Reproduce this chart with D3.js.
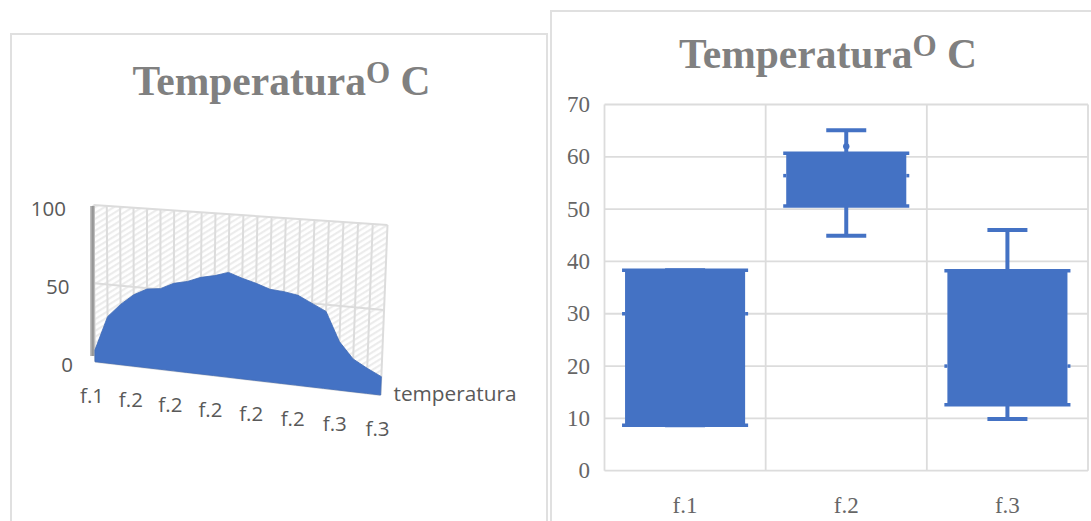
<!DOCTYPE html>
<html><head><meta charset="utf-8">
<script src="https://cdn.jsdelivr.net/npm/d3@7"></script>
<style>html,body{margin:0;background:#fff}svg{display:block}</style></head>
<body><svg id="c" width="1091" height="521"></svg>
<script>
const areaCategories = ["f.1","f.1","f.1","f.2","f.2","f.2","f.2","f.2","f.2","f.2","f.2","f.2","f.2","f.2","f.2","f.2","f.2","f.2","f.3","f.3","f.3","f.3"];
const areaValues = [7.4,29.6,38.2,45.1,49.5,50.5,54.6,56.5,59.8,61.6,64.3,61.4,59.1,56.2,55.5,54.1,50,46,28.8,19.4,14.8,10.8];
const areaTicks = [0,50,100];
const boxCategories = ["f.1","f.2","f.3"];
const boxLow = [8.7,50.6,12.6];
const boxHigh = [38.3,60.7,38.2];
const whiskerLow = [8.7,44.9,9.9];
const whiskerHigh = [38.3,65.1,46];
const boxMid = [30,56.4,20];
const outliers = [[1,62]];
const boxTicks = [0,10,20,30,40,50,60,70];
const title = "Temperatura";
const seriesName = "temperatura";

const svg = d3.select("#c");
const defs = svg.append("defs");
const blue="#4472c4", grid="#dcdcdc", txt="#595959", ttl="#808080";
const line=(p,x1,y1,x2,y2,c,w)=>p.append("line").attr("x1",x1).attr("y1",y1).attr("x2",x2).attr("y2",y2).attr("stroke",c).attr("stroke-width",w);

// panel frames
svg.append("path").attr("d","M11,521V34H547V521").attr("fill","none").attr("stroke","#e0e0e0").attr("stroke-width",2);
svg.append("path").attr("d","M551,521V11H1091").attr("fill","none").attr("stroke","#e0e0e0").attr("stroke-width",2);

function drawTitle(cx,y,size){
  const t=svg.append("text").attr("x",cx).attr("y",y).attr("text-anchor","middle")
    .attr("font-family","Liberation Serif").attr("font-weight","bold").attr("font-size",size).attr("fill",ttl);
  t.append("tspan").text(title);
  t.append("tspan").attr("dy",-size*0.3).attr("font-size",size*0.75).text("O");
  t.append("tspan").attr("dy",size*0.3).text(" C");
}
drawTitle(281.5,95,41.5);
drawTitle(828,68,41.5);

// ---- left: pseudo-3D area ----
const n=areaValues.length, k=1.058;
const persp=u=>u/(u+k*(1-u));
const U=d3.scaleLinear().domain([0,n-1]).range([0,1]);
const baseX=d3.scaleLinear().domain([0,1]).range([95,380.6]);
const topX=d3.scaleLinear().domain([0,1]).range([93.5,387.5]);
const baseY=d3.scaleLinear().domain([0,1]).range([361.7,395]);
const wallH=d3.scaleLinear().domain([0,1]).range([156.7,170]);
const V=d3.scaleLinear().domain([0,100]).range([0,1]);
const px=(p,v)=>baseX(p)+(topX(p)-baseX(p))*V(v);
const py=(p,v)=>baseY(p)-wallH(p)*V(v);
const P=i=>persp(U(i));

const pat=defs.append("pattern").attr("id","hatch").attr("patternUnits","userSpaceOnUse")
  .attr("width",5).attr("height",5).attr("patternTransform","rotate(-32)");
pat.append("rect").attr("width",5).attr("height",2.2).attr("fill","#ececec");
const wall=svg.append("g");
wall.append("path").attr("d",`M${px(0,0)},${py(0,0)}L${px(0,100)},${py(0,100)}L${px(1,100)},${py(1,100)}L${px(1,0)},${py(1,0)}Z`).attr("fill","url(#hatch)");
areaValues.forEach((_,i)=>{
  line(wall,px(P(i),0),py(P(i),0),px(P(i),100),py(P(i),100),grid,2);
});
areaTicks.forEach(v=>line(wall,px(0,v),py(0,v),px(1,v),py(1,v),grid,2));
const sw=defs.append("linearGradient").attr("id","sw").attr("x1",0).attr("y1",0).attr("x2",1).attr("y2",0);
sw.append("stop").attr("offset",0).attr("stop-color","#c8c8c8");
sw.append("stop").attr("offset",.6).attr("stop-color","#8c8c8c");
sw.append("stop").attr("offset",1).attr("stop-color","#cfcfcf");
wall.append("rect").attr("x",90).attr("y",206).attr("width",5).attr("height",150).attr("fill","url(#sw)");

const area3d=d3.area().x0(i=>px(P(i),0)).y0(i=>py(P(i),0))
  .x1(i=>px(P(i),areaValues[i])).y1(i=>py(P(i),areaValues[i]));
svg.append("path").datum(d3.range(n)).attr("d",area3d).attr("fill",blue).attr("stroke","#3f69b5").attr("stroke-width",.8);

const sans="Open Sans";
areaTicks.forEach(v=>{
  svg.append("text").attr("x",73-0.07*v).attr("y",py(0,v)+10.5).attr("text-anchor","end")
   .attr("font-family",sans).attr("font-size",20.5).attr("fill",txt).text(v);
});
d3.range(0,n,3).forEach(i=>{
  svg.append("text").attr("x",px(P(i),0)-3).attr("y",baseY(P(i))+41).attr("text-anchor","middle")
   .attr("font-family",sans).attr("font-size",20.5).attr("fill",txt).text(areaCategories[i]);
});
svg.append("text").attr("x",393.5).attr("y",401).attr("font-family",sans).attr("font-size",20.8).attr("fill",txt).text(seriesName);

// ---- right: box chart ----
const x=d3.scaleBand().domain(boxCategories).range([604.5,1088]);
const y=d3.scaleLinear().domain([0,70]).range([470.7,104.5]);
const gridG=svg.append("g");
boxTicks.forEach(t=>line(gridG,604.5,y(t),1088,y(t),grid,1.8));
d3.range(4).forEach(i=>{
  const v=i<3?x(boxCategories[i]):x.range()[1];
  line(gridG,v,y(70),v,y(0),grid,1.8);
});
const serifTxt="#666666";
boxTicks.forEach(t=>{
  gridG.append("text").attr("x",590).attr("y",y(t)+7.5).attr("text-anchor","end")
   .attr("font-family","Liberation Serif").attr("font-size",23).attr("fill",serifTxt).text(t);
});
const g=svg.append("g");
boxCategories.forEach((c,i)=>{
  const cx=x(c)+x.bandwidth()/2, w=x.bandwidth()*0.745, cap=40;
  g.append("text").attr("x",cx).attr("y",513).attr("text-anchor","middle")
   .attr("font-family","Liberation Serif").attr("font-size",23).attr("fill",serifTxt).text(c);
  line(g,cx,y(whiskerLow[i]),cx,y(whiskerHigh[i]),blue,4);
  [whiskerLow[i],whiskerHigh[i]].forEach(v=>line(g,cx-cap/2,y(v),cx+cap/2,y(v),blue,4));
  g.append("rect").attr("x",cx-w/2).attr("y",y(boxHigh[i])).attr("width",w).attr("height",y(boxLow[i])-y(boxHigh[i])).attr("fill",blue);
  [boxLow[i],boxHigh[i],boxMid[i]].forEach((v,j)=>{
    if(j<2) line(g,cx-w/2-3,y(v),cx+w/2+3,y(v),blue,3.5);
    else { line(g,cx-w/2-3,y(v),cx-w/2,y(v),blue,3.5); line(g,cx+w/2,y(v),cx+w/2+3,y(v),blue,3.5); }
  });
});
outliers.forEach(([i,v])=>{
  g.append("circle").attr("cx",x(boxCategories[i])+x.bandwidth()/2).attr("cy",y(v)).attr("r",3.2).attr("fill",blue);
});
</script></body></html>
